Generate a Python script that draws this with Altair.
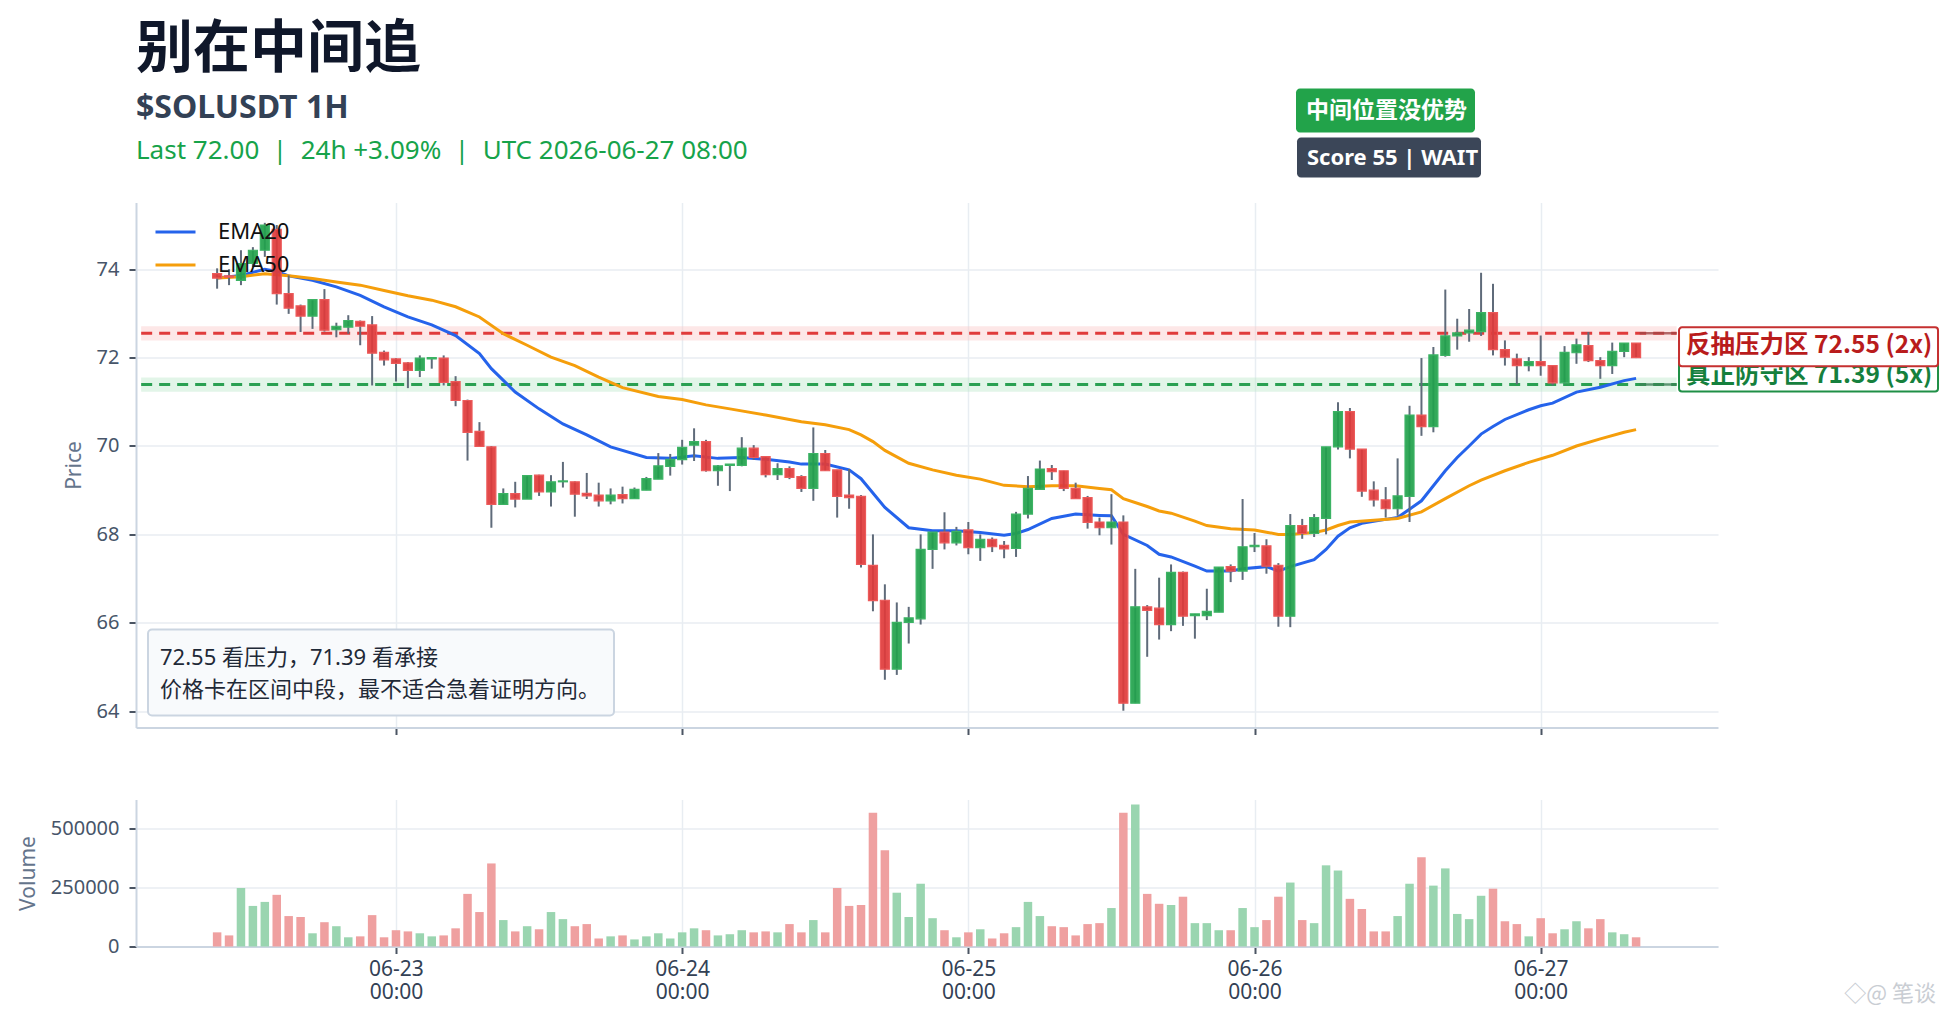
import altair as alt
import pandas as pd

# ---------------- data ----------------
BASE = pd.Timestamp("2026-06-22 09:00")   # UTC, first candle
opens = [73.90, 73.85, 73.75, 74.13, 74.43, 74.90, 73.45, 73.17, 72.94, 73.31,
         72.63, 72.69, 72.82, 72.74, 72.12, 71.97, 71.88, 71.71, 71.97, 71.99,
         71.46, 71.03, 70.33, 69.98, 68.68, 68.92, 68.80, 69.34, 68.96, 69.19,
         69.19, 68.93, 68.89, 68.76, 68.90, 68.81, 69.00, 69.25, 69.54, 69.69,
         70.02, 70.10, 69.44, 69.56, 69.56, 69.95, 69.76, 69.35, 69.49, 69.31,
         69.04, 69.83, 69.46, 68.89, 68.86, 67.30, 66.51, 64.95, 66.01, 66.09,
         67.66, 68.05, 67.81, 68.10, 67.70, 67.89, 67.75, 67.68, 68.46, 69.02,
         69.49, 69.44, 69.04, 68.83, 68.28, 68.15, 68.28, 64.18, 66.36, 66.33,
         65.96, 67.14, 66.16, 66.16, 66.24, 67.27, 67.17, 67.72, 67.74, 67.30,
         66.15, 68.20, 68.02, 68.36, 69.98, 70.78, 69.93, 69.00, 68.78, 68.58,
         68.86, 70.70, 70.44, 72.05, 72.49, 72.56, 72.59, 73.02, 72.18, 71.97,
         71.82, 71.91, 71.82, 71.43, 72.11, 72.27, 71.93, 71.82, 72.14, 72.33]
highs = [74.02, 74.00, 74.43, 74.50, 75.05, 75.00, 73.86, 73.20, 73.31, 73.55,
         72.79, 72.96, 72.84, 72.94, 72.16, 71.99, 71.90, 72.05, 72.00, 72.05,
         71.58, 71.05, 70.54, 70.00, 69.04, 69.19, 69.34, 69.35, 69.34, 69.64,
         69.20, 69.39, 69.17, 69.04, 69.08, 69.06, 69.30, 69.84, 69.82, 70.14,
         70.40, 70.14, 69.57, 69.59, 70.20, 70.02, 69.76, 69.61, 69.54, 69.34,
         70.42, 69.91, 69.46, 69.48, 68.89, 68.00, 66.87, 66.46, 66.36, 68.00,
         68.05, 68.50, 68.17, 68.28, 68.00, 67.93, 67.85, 68.51, 69.32, 69.67,
         69.57, 69.44, 69.17, 68.87, 68.38, 68.91, 68.43, 67.22, 66.40, 67.02,
         67.32, 67.16, 66.20, 66.77, 67.26, 67.32, 68.80, 68.03, 67.89, 67.35,
         68.46, 68.35, 68.46, 69.98, 70.99, 70.86, 69.93, 69.20, 69.07, 69.72,
         70.91, 71.99, 72.24, 73.54, 72.88, 73.10, 73.92, 73.67, 72.39, 72.09,
         72.01, 72.50, 71.82, 72.26, 72.43, 72.58, 72.01, 72.34, 72.33, 72.33]
lows = [73.56, 73.64, 73.64, 74.05, 74.28, 73.20, 72.99, 72.58, 72.65, 72.59,
        72.46, 72.54, 72.28, 71.37, 71.82, 71.46, 71.31, 71.56, 71.75, 71.37,
        70.90, 69.67, 69.99, 68.15, 68.68, 68.61, 68.80, 68.87, 68.63, 69.06,
        68.40, 68.80, 68.63, 68.68, 68.70, 68.81, 69.00, 69.25, 69.33, 69.58,
        69.66, 69.42, 69.10, 68.98, 69.54, 69.69, 69.29, 69.23, 69.25, 68.96,
        68.76, 69.44, 68.38, 68.58, 67.25, 66.26, 64.71, 64.82, 65.53, 65.96,
        67.22, 67.66, 67.75, 67.55, 67.40, 67.60, 67.46, 67.49, 68.36, 69.02,
        69.23, 68.98, 68.81, 68.13, 67.98, 67.77, 64.01, 64.18, 65.23, 65.62,
        65.81, 65.93, 65.64, 66.06, 66.24, 66.92, 66.97, 67.60, 67.11, 65.91,
        65.90, 67.90, 67.94, 68.00, 69.92, 69.72, 68.85, 68.63, 68.38, 68.42,
        68.28, 70.23, 70.31, 72.02, 72.18, 72.36, 72.49, 72.05, 71.82, 71.40,
        71.69, 71.59, 71.37, 71.41, 71.86, 71.90, 71.52, 71.63, 72.01, 71.99]
closes = [73.80, 73.82, 74.13, 74.43, 75.00, 73.45, 73.12, 72.94, 73.31, 72.62,
          72.71, 72.84, 72.71, 72.10, 71.95, 71.87, 71.71, 71.99, 72.00, 71.44,
          71.03, 70.31, 69.99, 68.68, 68.92, 68.80, 69.33, 68.96, 69.19, 69.21,
          68.91, 68.87, 68.76, 68.89, 68.81, 69.02, 69.26, 69.55, 69.70, 69.97,
          70.10, 69.44, 69.55, 69.59, 69.95, 69.74, 69.35, 69.49, 69.29, 69.04,
          69.83, 69.44, 68.86, 68.83, 67.32, 66.50, 64.95, 66.01, 66.11, 67.66,
          68.05, 67.81, 68.07, 67.70, 67.89, 67.72, 67.67, 68.46, 69.04, 69.48,
          69.42, 69.04, 68.81, 68.27, 68.15, 68.28, 64.18, 66.36, 66.28, 65.96,
          67.14, 66.15, 66.20, 66.26, 67.26, 67.17, 67.72, 67.75, 67.28, 66.15,
          68.20, 68.02, 68.38, 69.98, 70.78, 69.93, 68.98, 68.78, 68.58, 68.87,
          70.70, 70.44, 72.06, 72.49, 72.56, 72.62, 73.02, 72.18, 72.01, 71.82,
          71.91, 71.82, 71.43, 72.12, 72.29, 71.93, 71.82, 72.14, 72.33, 72.00]
volumes = [60000, 47000, 248000, 172000, 189000, 219000, 129000, 125000, 56000, 103000,
           86000, 39000, 43000, 133000, 39000, 69000, 64000, 56000, 43000, 47000,
           77000, 223000, 146000, 352000, 112000, 64000, 86000, 73000, 146000, 116000,
           86000, 95000, 34000, 43000, 47000, 30000, 43000, 56000, 34000, 60000,
           77000, 69000, 47000, 52000, 69000, 60000, 64000, 60000, 95000, 60000,
           112000, 60000, 248000, 172000, 176000, 567000, 408000, 228000, 125000, 266000,
           120000, 69000, 39000, 60000, 73000, 34000, 56000, 82000, 189000, 129000,
           86000, 82000, 47000, 95000, 99000, 163000, 567000, 602000, 223000, 181000,
           176000, 211000, 99000, 99000, 69000, 69000, 163000, 82000, 112000, 211000,
           271000, 112000, 99000, 344000, 322000, 202000, 159000, 64000, 64000, 129000,
           266000, 378000, 258000, 331000, 138000, 116000, 215000, 245000, 107000, 95000,
           43000, 120000, 56000, 73000, 107000, 77000, 116000, 60000, 52000, 39000]

ema20_hours = [0, 2, 4, 5, 6, 8, 10, 12, 14, 16, 18, 20, 22, 23, 25, 27, 29, 31, 33, 36,
               38, 40, 42, 44, 46, 48, 49, 51, 53, 54, 56, 58, 60, 62, 64, 66, 67, 68, 70, 72,
               74, 75, 76, 78, 79, 80, 82, 83, 85, 86, 88, 89, 90, 92, 93, 94, 95, 96, 98, 99,
               100, 101, 102, 103, 104, 105, 106, 107, 108, 110, 111, 112, 114, 116, 118, 119]
ema20_vals = [73.80, 73.86, 74.00, 73.95, 73.85, 73.75, 73.60, 73.41, 73.15, 72.92,
              72.74, 72.50, 72.09, 71.75, 71.22, 70.84, 70.50, 70.25, 69.98, 69.74,
              69.72, 69.78, 69.72, 69.74, 69.70, 69.64, 69.59, 69.59, 69.46, 69.26,
              68.61, 68.15, 68.08, 68.08, 68.04, 67.98, 68.02, 68.11, 68.36, 68.46,
              68.43, 68.42, 68.00, 67.75, 67.55, 67.49, 67.28, 67.17, 67.17, 67.22,
              67.27, 67.17, 67.27, 67.43, 67.66, 67.96, 68.15, 68.25, 68.34, 68.38,
              68.57, 68.76, 69.10, 69.44, 69.74, 70.00, 70.27, 70.44, 70.60, 70.82,
              70.91, 70.97, 71.22, 71.33, 71.48, 71.53]
ema50_hours = [0, 2, 4, 6, 8, 10, 12, 14, 16, 18, 20, 22, 24, 26, 28, 30, 32, 34, 37, 39,
               41, 43, 46, 49, 51, 53, 54, 55, 56, 58, 60, 62, 64, 66, 68, 70, 72, 74, 75, 76,
               78, 79, 80, 82, 83, 85, 87, 88, 89, 90, 92, 93, 94, 95, 97, 99, 101, 103, 105, 106,
               108, 110, 112, 114, 116, 118, 119]
ema50_vals = [73.80, 73.83, 73.90, 73.85, 73.79, 73.71, 73.64, 73.52, 73.40, 73.30,
              73.15, 72.92, 72.54, 72.28, 72.01, 71.82, 71.56, 71.32, 71.12, 71.05,
              70.93, 70.84, 70.70, 70.55, 70.48, 70.37, 70.25, 70.10, 69.90, 69.61,
              69.46, 69.34, 69.25, 69.11, 69.08, 69.10, 69.10, 69.04, 69.01, 68.81,
              68.63, 68.53, 68.48, 68.30, 68.20, 68.13, 68.10, 68.05, 68.00, 68.00,
              68.04, 68.10, 68.20, 68.28, 68.32, 68.36, 68.51, 68.81, 69.10, 69.23,
              69.44, 69.63, 69.79, 70.00, 70.16, 70.31, 70.37]

levels = [72.55, 71.39]
level_labels = ["反抽压力区 72.55 (2x)", "真正防守区 71.39 (5x)"]
band_half = 0.16
tick_hours = [15, 39, 63, 87, 111]

NB = "\u00a0"
title_text = "别在中间追"
subtitle_text = "$SOLUSDT 1H"
info_text = f"Last 72.00{NB}{NB}|{NB}{NB}24h +3.09%{NB}{NB}|{NB}{NB}UTC 2026-06-27 08:00"
badge_texts = ["中间位置没优势", "Score 55 | WAIT"]
note_lines = ["72.55 看压力，71.39 看承接", "价格卡在区间中段，最不适合急着证明方向。"]

# ---------------- helpers ----------------
FONT = "'Noto Sans', 'Noto Sans CJK SC', sans-serif"
CJK = "'Noto Sans CJK SC', 'Noto Sans', sans-serif"
GREEN = "#22a24c"
RED = "#e03b3b"


def iso(h):
    return (BASE + pd.Timedelta(hours=h)).strftime("%Y-%m-%dT%H:%M:%SZ")


def dt(h):
    t = BASE + pd.Timedelta(hours=h)
    return alt.DateTime(year=t.year, month=t.month, date=t.day,
                        hours=t.hour, minutes=t.minute, utc=True)


candles = pd.DataFrame({
    "t": [iso(h) for h in range(len(opens))],
    "o": opens, "h": highs, "l": lows, "c": closes, "v": volumes,
})
candles["dir"] = ["up" if c >= o else "down" for o, c in zip(opens, closes)]

ema = pd.concat([
    pd.DataFrame({"t": [iso(h) for h in ema20_hours], "val": ema20_vals, "series": "EMA20"}),
    pd.DataFrame({"t": [iso(h) for h in ema50_hours], "val": ema50_vals, "series": "EMA50"}),
])

lv = pd.DataFrame({
    "level": levels,
    "lo": [v - band_half for v in levels],
    "hi": [v + band_half for v in levels],
    "t0": iso(-6.37), "t1": iso(122.4), "lt": iso(122.6), "c0": iso(119.3),
    "label": level_labels,
    "kind": ["res", "sup"],
})

one = pd.DataFrame({"k": [0]})

X_DOMAIN = [dt(-6.37), dt(125.46)]
W = 1582


def xenc(field="t", labels=False):
    ax = dict(values=[dt(h) for h in tick_hours], ticks=True, tickSize=7, tickWidth=2,
              tickColor="#4b5563", domainColor="#cbd5e1", domainWidth=2,
              grid=True, gridColor="#e8edf2", gridWidth=1.5, title=None)
    if labels:
        ax.update(labels=True,
                  labelExpr="[utcFormat(datum.value, '%m-%d'), utcFormat(datum.value, '%H:%M')]",
                  labelFontSize=21, labelColor="#334155", labelLineHeight=23,
                  labelPadding=5, labelFont=FONT)
    else:
        ax.update(labels=False)
    return alt.X(f"{field}:T", scale=alt.Scale(type="utc", domain=X_DOMAIN),
                 axis=alt.Axis(**ax))


def yprice(field):
    return alt.Y(f"{field}:Q",
                 scale=alt.Scale(domain=[63.63, 75.51], zero=False, nice=False),
                 axis=alt.Axis(values=[64, 66, 68, 70, 72, 74], title="Price",
                               labelFontSize=20, labelColor="#475569", labelPadding=10,
                               tickSize=7, tickWidth=2, tickColor="#4b5563",
                               domainColor="#cbd5e1", domainWidth=2,
                               gridColor="#e8edf2", gridWidth=1.5,
                               titleFontSize=21, titleColor="#64748b",
                               titleFontWeight="normal", titlePadding=12))


cbase = alt.Chart(candles)

bands = alt.Chart(lv).mark_rect(opacity=0.45).encode(
    x=xenc("t0"), x2="t1:T", y=yprice("lo"), y2="hi:Q",
    color=alt.condition(alt.datum.kind == "res", alt.value("#fbcaca"), alt.value("#bfe8cc")),
)
lines = alt.Chart(lv).mark_rule(strokeWidth=3, strokeDash=[11, 7]).encode(
    x=xenc("t0"), x2="t1:T", y=yprice("level"),
    color=alt.condition(alt.datum.kind == "res", alt.value("#e03b3b"), alt.value("#2aa052")),
)
leaders = alt.Chart(lv).mark_rule(strokeWidth=2.5, opacity=0.8).encode(
    x=xenc("c0"), x2="t1:T", y=yprice("level"),
    color=alt.condition(alt.datum.kind == "res", alt.value("#a14848"), alt.value("#3d8056")),
)

bodies = cbase.mark_bar(size=9, strokeWidth=1.2, fillOpacity=0.92).encode(
    x=xenc(), y=yprice("o"), y2="c:Q",
    fill=alt.condition(alt.datum.dir == "up", alt.value(GREEN), alt.value(RED)),
    stroke=alt.condition(alt.datum.dir == "up", alt.value("#3cb364"), alt.value("#ec5a5a")),
)
wicks = cbase.mark_rule(strokeWidth=2, color="#5f6b7a").encode(
    x=xenc(), y=yprice("l"), y2="h:Q",
)

ema_lines = alt.Chart(ema).mark_line(strokeWidth=3).encode(
    x=xenc(), y=yprice("val"),
    color=alt.Color("series:N",
                    scale=alt.Scale(domain=["EMA20", "EMA50"], range=["#2563eb", "#f59e0b"]),
                    legend=alt.Legend(title=None, orient="none", legendX=18, legendY=8,
                                      symbolType="stroke", symbolSize=1600,
                                      symbolStrokeWidth=3, rowPadding=-6,
                                      labelFontSize=22, labelColor="#111111",
                                      labelOffset=21, labelFont=FONT)),
)

sel_res = alt.datum.kind == "res"
lab_sup_box = alt.Chart(lv).transform_filter(alt.datum.kind == "sup").mark_rect(
    fill="white", stroke="#1f8f46", strokeWidth=2, cornerRadius=3,
    yOffset=-25, y2Offset=7, x2Offset=259).encode(
    x=xenc("lt"), x2="lt:T", y=yprice("level"), y2="level:Q")
lab_sup_txt = alt.Chart(lv).transform_filter(alt.datum.kind == "sup").mark_text(
    align="left", baseline="middle", dx=7, dy=-9, fontSize=24.5, fontWeight="bold",
    color="#15803d", font=CJK).encode(x=xenc("lt"), y=yprice("level"), text="label:N")
lab_res_box = alt.Chart(lv).transform_filter(sel_res).mark_rect(
    fill="white", stroke="#c53030", strokeWidth=2, cornerRadius=3,
    yOffset=-6, y2Offset=33, x2Offset=259).encode(
    x=xenc("lt"), x2="lt:T", y=yprice("level"), y2="level:Q")
lab_res_txt = alt.Chart(lv).transform_filter(sel_res).mark_text(
    align="left", baseline="middle", dx=7, dy=13, fontSize=24.5, fontWeight="bold",
    color="#b91c1c", font=CJK).encode(x=xenc("lt"), y=yprice("level"), text="label:N")

# header, badges and note box (page furniture around the plot)
hdr = alt.Chart(one)
title_m = hdr.mark_text(text=title_text, align="left", baseline="alphabetic", fontSize=57,
                        fontWeight="bold", color="#0f172a", font=CJK).encode(
    x=alt.value(0), y=alt.value(-135.75))
sub_m = hdr.mark_text(text=subtitle_text, align="left", baseline="alphabetic", fontSize=32,
                      fontWeight="bold", color="#334155", font=FONT).encode(
    x=alt.value(0), y=alt.value(-85))
info_m = hdr.mark_text(text=info_text, align="left", baseline="alphabetic", fontSize=26,
                       color="#16a34a", font=FONT).encode(
    x=alt.value(0), y=alt.value(-44))
b1 = hdr.mark_rect(fill="#22a34a", cornerRadius=4).encode(
    x=alt.value(1160), x2=alt.value(1339), y=alt.value(-114), y2=alt.value(-70))
b1t = hdr.mark_text(text=badge_texts[0], align="left", baseline="middle", fontSize=23,
                    fontWeight="bold", color="white", font=CJK).encode(
    x=alt.value(1170), y=alt.value(-92))
b2 = hdr.mark_rect(fill="#3b4658", cornerRadius=4).encode(
    x=alt.value(1161), x2=alt.value(1345), y=alt.value(-65), y2=alt.value(-25))
b2t = hdr.mark_text(text=badge_texts[1], align="left", baseline="middle", fontSize=22,
                    fontWeight="bold", color="white", font=FONT).encode(
    x=alt.value(1171), y=alt.value(-45))
note_box = hdr.mark_rect(fill="#f8fafc", stroke="#cbd5e1", strokeWidth=2, cornerRadius=4).encode(
    x=alt.value(12), x2=alt.value(478), y=alt.value(427), y2=alt.value(513))
note1 = hdr.mark_text(text=note_lines[0], align="left", baseline="middle", fontSize=22,
                      color="#1f2937", font=FONT).encode(x=alt.value(24), y=alt.value(455))
note2 = hdr.mark_text(text=note_lines[1], align="left", baseline="middle", fontSize=22,
                      color="#1f2937", font=FONT).encode(x=alt.value(24), y=alt.value(487))

price = alt.layer(
    bands, lines, leaders, ema_lines, wicks, bodies,
    lab_sup_box, lab_sup_txt, lab_res_box, lab_res_txt,
    title_m, sub_m, info_m, b1, b1t, b2, b2t, note_box, note1, note2,
).properties(width=W, height=525)

vol_bars = cbase.mark_bar(size=8.5).encode(
    x=xenc(labels=True),
    y=alt.Y("v:Q", scale=alt.Scale(domain=[0, 623000], nice=False),
            axis=alt.Axis(values=[0, 250000, 500000], format="d", title="Volume",
                          labelFontSize=20, labelColor="#475569", labelPadding=10,
                          tickSize=7, tickWidth=2, tickColor="#4b5563",
                          domainColor="#cbd5e1", domainWidth=2,
                          gridColor="#e8edf2", gridWidth=1.5,
                          titleFontSize=21, titleColor="#64748b",
                          titleFontWeight="normal", titlePadding=12)),
    color=alt.condition(alt.datum.dir == "up", alt.value("#9ad5b0"), alt.value("#efa0a0")),
)
wm = alt.Chart(one).mark_text(text="◇@ 笔谈", align="right", baseline="middle", fontSize=22,
                              color="#c9cdd3", font=CJK).encode(
    x=alt.value(1800), y=alt.value(194))
volume = alt.layer(vol_bars, wm).properties(width=W, height=147)

chart = alt.vconcat(price, volume, spacing=64).properties(
    padding={"left": 9, "top": 12.5, "right": 0, "bottom": 6},
    background="white",
).configure(font=FONT).configure_view(strokeWidth=0)

chart.save("out.html", embed_options={"renderer": "svg", "actions": False})
